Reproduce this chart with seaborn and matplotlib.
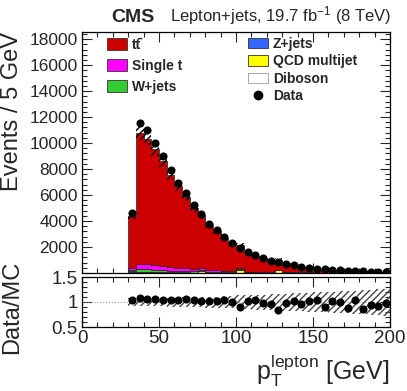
import numpy as np
import pandas as pd
import matplotlib
matplotlib.use('Agg')
import matplotlib.pyplot as plt
import matplotlib.ticker as mticker
from matplotlib.patches import Patch
from matplotlib.lines import Line2D
import seaborn as sns

# 5 GeV bins from 30 to 200 GeV
bin_edges = np.arange(30, 201, 5)
bin_centers = bin_edges[:-1] + 2.5

# observed events per bin
data = [4580, 11570, 10970, 9990, 9040, 7940, 6900, 6130, 5255, 4535,
        3760, 3300, 2780, 2300, 1960, 1600, 1390, 1180, 950, 870,
        720, 610, 470, 400, 340, 270, 265, 215, 160, 170,
        120, 115, 100, 95]

# simulated processes per bin
ttbar = [3990, 10100, 9685, 8886, 8093, 7106, 6298, 5491, 4707, 4046,
         3459, 3007, 2528, 2150, 1803, 1454, 1236, 1104, 913, 770,
         675, 544, 444, 356, 295, 268, 232, 188, 159, 145,
         122, 105, 93, 83]
single_t = [170, 390, 380, 370, 300, 270, 240, 210, 180, 160,
            140, 120, 105, 90, 80, 70, 60, 52, 45, 40,
            34, 30, 26, 22, 19, 17, 15, 13, 11, 10,
            9, 8, 7, 6]
wjets = [120, 220, 200, 180, 150, 130, 110, 95, 80, 70,
         60, 52, 45, 40, 35, 30, 27, 24, 21, 19,
         17, 15, 13, 12, 10, 9, 8, 7, 6, 6,
         5, 5, 4, 4]
zjets = [25, 45, 40, 35, 30, 26, 22, 19, 16, 14,
         12, 10, 9, 8, 7, 6, 5, 5, 4, 4,
         3, 3, 3, 2, 2, 2, 2, 2, 1, 1,
         1, 1, 1, 1]
qcd = [90, 40, 30, 30, 25, 20, 20, 15, 15, 150,
       10, 10, 8, 8, 250, 6, 6, 5, 5, 200,
       4, 4, 3, 3, 3, 3, 2, 2, 2, 2,
       2, 2, 2, 2]
diboson = [8, 15, 14, 13, 12, 10, 9, 8, 7, 6,
           5, 5, 4, 4, 3, 3, 3, 2, 2, 2,
           2, 2, 1, 1, 1, 1, 1, 1, 1, 1,
           1, 1, 1, 1]

# relative uncertainty on the prediction (stack band and ratio band)
stack_unc = [0.05, 0.05, 0.05, 0.05, 0.05, 0.055, 0.055, 0.055, 0.06, 0.06,
             0.06, 0.065, 0.065, 0.07, 0.075, 0.075, 0.08, 0.08, 0.085, 0.085,
             0.09, 0.09, 0.095, 0.1, 0.1, 0.105, 0.11, 0.11, 0.115, 0.12,
             0.12, 0.125, 0.13, 0.135]
ratio_unc = [0.08, 0.08, 0.08, 0.08, 0.085, 0.09, 0.09, 0.095, 0.10, 0.10,
             0.11, 0.11, 0.12, 0.12, 0.14, 0.14, 0.15, 0.15, 0.16, 0.16,
             0.17, 0.18, 0.18, 0.19, 0.20, 0.20, 0.21, 0.22, 0.22, 0.23,
             0.24, 0.25, 0.26, 0.27]

processes = {
    'ttbar': ttbar, 'single_t': single_t, 'wjets': wjets,
    'zjets': zjets, 'qcd': qcd, 'diboson': diboson,
}
# seaborn stacks the first hue level on top
hue_order = ['ttbar', 'single_t', 'wjets', 'zjets', 'qcd', 'diboson']
colors = {'ttbar': '#cc0000', 'single_t': '#ff00ff', 'wjets': '#33cc33',
          'zjets': '#3366ff', 'qcd': '#ffff00', 'diboson': '#ffffff'}

rows = []
for name, vals in processes.items():
    for c, v in zip(bin_centers, vals):
        rows.append({'pt': float(c), 'n': float(v), 'process': name})
df = pd.DataFrame(rows)

mc_total = np.sum([np.array(v) for v in processes.values()], axis=0)
data_arr = np.array(data)
ratio = data_arr / mc_total

sns.set_style('ticks')
plt.rcParams['font.family'] = ['Liberation Sans', 'DejaVu Sans']
plt.rcParams['mathtext.fontset'] = 'custom'
plt.rcParams['mathtext.rm'] = 'Liberation Sans'
plt.rcParams['mathtext.it'] = 'Liberation Sans'
plt.rcParams['mathtext.bf'] = 'Liberation Sans:bold'
plt.rcParams['hatch.linewidth'] = 1.0

fig = plt.figure(figsize=(4.07, 3.91), dpi=100)
W, H = 407, 391
ax = fig.add_axes([82 / W, 1 - 273 / H, 308 / W, 241 / H])
ax_r = fig.add_axes([82 / W, 1 - 327 / H, 308 / W, 50 / H])

# stacked prediction
sns.histplot(data=df, x='pt', weights='n', hue='process', hue_order=hue_order,
             multiple='stack', bins=[float(b) for b in bin_edges], element='step',
             palette=colors, alpha=1, edgecolor='#222222', linewidth=0.5,
             legend=False, ax=ax)

# uncertainty band on the stack
band_x = bin_edges
lo = np.append(mc_total * (1 - np.array(stack_unc)), mc_total[-1] * (1 - stack_unc[-1]))
hi = np.append(mc_total * (1 + np.array(stack_unc)), mc_total[-1] * (1 + stack_unc[-1]))
ax.fill_between(band_x, lo, hi, step='post', facecolor='none',
                edgecolor='#000000', hatch='/////', linewidth=0, zorder=4)

sns.scatterplot(x=bin_centers, y=data_arr, color='black', s=34,
                edgecolor='black', linewidth=0, zorder=5, ax=ax)

ax.set_xlim(0, 200)
ax.set_ylim(0, 18550)
ax.set_xlabel('')
ax.set_ylabel('Events / 5 GeV', fontsize=17, loc='top')
ax.yaxis.set_label_coords(-0.19, 1.0)
ax.yaxis.set_major_locator(mticker.MultipleLocator(2000))
ax.yaxis.set_minor_locator(mticker.MultipleLocator(400))
ax.xaxis.set_major_locator(mticker.MultipleLocator(50))
ax.xaxis.set_minor_locator(mticker.MultipleLocator(10))
ax.yaxis.set_major_formatter(mticker.FuncFormatter(lambda v, p: '' if v == 0 else '%d' % v))
ax.tick_params(axis='x', labelbottom=False)

# ratio panel
ax_r.axhline(1, color='#999999', ls=':', lw=0.8, zorder=1)
r_lo = np.append(1 - np.array(ratio_unc), 1 - ratio_unc[-1])
r_hi = np.append(1 + np.array(ratio_unc), 1 + ratio_unc[-1])
ax_r.fill_between(band_x, r_lo, r_hi, step='post', facecolor='none',
                  edgecolor='#444444', hatch='/////', linewidth=0, zorder=2)
sns.scatterplot(x=bin_centers, y=ratio, color='black', s=34,
                edgecolor='black', linewidth=0, zorder=5, ax=ax_r)
ax_r.set_xlim(0, 200)
ax_r.set_ylim(0.5, 1.5)
ax_r.set_ylabel('Data/MC', fontsize=17)
ax_r.yaxis.set_label_coords(-0.19, 0.39)
ax_r.set_xlabel(r'$\mathrm{p_{T}^{lepton}}$ [GeV]', fontsize=18, loc='right')
ax_r.xaxis.set_major_locator(mticker.MultipleLocator(50))
ax_r.xaxis.set_minor_locator(mticker.MultipleLocator(10))
ax_r.yaxis.set_major_locator(mticker.FixedLocator([0.5, 1.0, 1.5]))
ax_r.yaxis.set_minor_locator(mticker.MultipleLocator(0.1))
ax_r.yaxis.set_major_formatter(mticker.FuncFormatter(lambda v, p: '%g' % v))

for a in (ax, ax_r):
    a.tick_params(which='both', direction='in', top=True, right=True,
                  labelsize=12.5, pad=3, width=0.8)
    a.tick_params(which='major', length=7)
    a.tick_params(which='minor', length=3.5)
    for s in a.spines.values():
        s.set_linewidth(0.9)
        s.set_color('black')
ax_r.tick_params(axis='x', labelsize=13.5, pad=2)
ax_r.tick_params(axis='y', labelsize=13.5)

# legends (tt-bar written with a combining macron on the second t)
lab_tt = 'tt\u0304'
left_handles = [
    Patch(facecolor=colors['ttbar'], edgecolor='#333333', linewidth=0.6, label=lab_tt),
    Patch(facecolor=colors['single_t'], edgecolor='#333333', linewidth=0.6, label='Single t'),
    Patch(facecolor=colors['wjets'], edgecolor='#333333', linewidth=0.6, label='W+jets'),
]
right_handles = [
    Patch(facecolor=colors['zjets'], edgecolor='#333333', linewidth=0.6, label='Z+jets'),
    Patch(facecolor=colors['qcd'], edgecolor='#333333', linewidth=0.6, label='QCD multijet'),
    Patch(facecolor=colors['diboson'], edgecolor='#999999', linewidth=0.6, label='Diboson'),
    Line2D([], [], marker='o', color='black', linestyle='none', markersize=6, label='Data'),
]
leg1 = fig.legend(handles=left_handles, loc='upper left',
                  bbox_to_anchor=(107 / W, 1 - 38 / H), frameon=False,
                  prop={'weight': 'bold', 'size': 10}, handlelength=1.45,
                  handleheight=0.95, handletextpad=0.35, labelspacing=0.5,
                  borderpad=0, borderaxespad=0)
leg2 = fig.legend(handles=right_handles, loc='upper left',
                  bbox_to_anchor=(248 / W, 1 - 37 / H), frameon=False,
                  prop={'weight': 'bold', 'size': 10}, handlelength=1.45,
                  handleheight=0.8, handletextpad=0.35, labelspacing=0.25,
                  borderpad=0, borderaxespad=0)

fig.text(111 / W, 1 - 17 / H, 'CMS', fontsize=14, fontweight='bold', va='center', ha='left')
fig.text(391 / W, 1 - 16 / H, r'Lepton+jets, 19.7 fb$^{-1}$ (8 TeV)', fontsize=12,
         va='center', ha='right')

fig.savefig('out.png', dpi=100)
